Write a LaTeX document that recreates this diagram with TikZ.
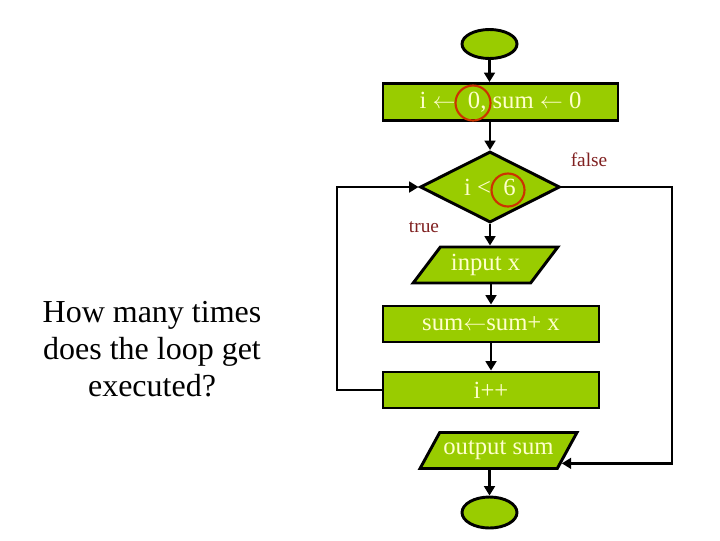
\documentclass[tikz,border=0pt]{standalone}
\usepackage{fontspec}
\setmainfont{Liberation Serif}
\usetikzlibrary{shapes.geometric,calc,arrows.meta}
\definecolor{boxgreen}{HTML}{99CC00}
\definecolor{boxtext}{HTML}{FFFFCC}
\definecolor{lbl}{HTML}{802020}
\definecolor{ring}{HTML}{CC3300}
\newcommand{\larr}{\ensuremath{\leftarrow}}
\tikzset{
  base/.style={draw=black,line width=2.2pt,fill=boxgreen,text=boxtext,inner sep=0pt,font=\fontsize{18.5}{21}\selectfont},
  term/.style={base,ellipse,minimum width=55*0.75pt,minimum height=29*0.75pt},
  proc/.style={base,rectangle,minimum height=37*0.75pt},
  dec/.style={base,diamond,minimum width=140*0.75pt,minimum height=71*0.75pt},
  io/.style={base,trapezium,trapezium left angle=46,trapezium right angle=134,trapezium stretches=true,minimum height=36*0.75pt},
  arr/.style={draw=black,line width=2.2pt,-{Triangle[length=7pt,width=8pt]}},
  ringc/.style={circle,draw=ring,line width=1.6pt,inner sep=0pt,minimum size=35*0.75pt},
  lab/.style={text=lbl,font=\fontsize{14.5}{17}\selectfont},
}
\begin{document}
\begin{tikzpicture}[x=0.75pt,y=-0.75pt]
\useasboundingbox (0,0) rectangle (720,540);
\node[term] (start) at (489.5,44) {};
\node[proc,minimum width=235*0.75pt] (init) at (500.5,102) {i \larr\ \ 0, sum \larr\ 0};
\node[dec] (cond) at (490,187) {i < \ 6};
\node[io,minimum width=145*0.75pt] (input) at (485.5,265) {input x};
\node[proc,minimum width=216*0.75pt,minimum height=36*0.75pt] (sum) at (491,324) {sum\larr sum+ x};
\node[proc,minimum width=216*0.75pt,minimum height=36*0.75pt] (inc) at (491,390) {i++};
\node[io,minimum width=157*0.75pt] (out) at (498.5,450.5) {output sum};
\node[term,minimum height=31*0.75pt] (stop) at (489.5,512.5) {};

\node[ringc] (r1) at (473,103) {};
\node[ringc,minimum size=33*0.75pt] (r2) at (508,190) {};

\node[lab] (lf) at (589,160) {false};
\node[lab] (lt) at (424,227) {true};

\node[align=center,font=\fontsize{24}{27.75}\selectfont] (q) at (152,349) {How many times\\does the loop get\\executed?};

\coordinate (lx) at (337,390);
\coordinate (rxl) at (672,0);
\coordinate (oe) at ($(out.bottom right corner)!0.17!(out.top right corner)$);
\coordinate (rx) at (oe -| rxl);

\draw[arr] (start) -- (start |- init.north);
\draw[arr] (init.south -| cond) -- (cond.north);
\draw[arr] (cond.south) -- (cond.south |- input.north);
\draw[arr] (input.south -| sum) -- (sum.north);
\draw[arr] (sum.south) -- (inc.north);
\draw[arr] (inc.west) -- (lx) |- (cond.west);
\draw[arr] (cond.east) -| (rx) -- (oe);
\draw[arr] (out.south -| stop) -- (stop.north);
\end{tikzpicture}
\end{document}
